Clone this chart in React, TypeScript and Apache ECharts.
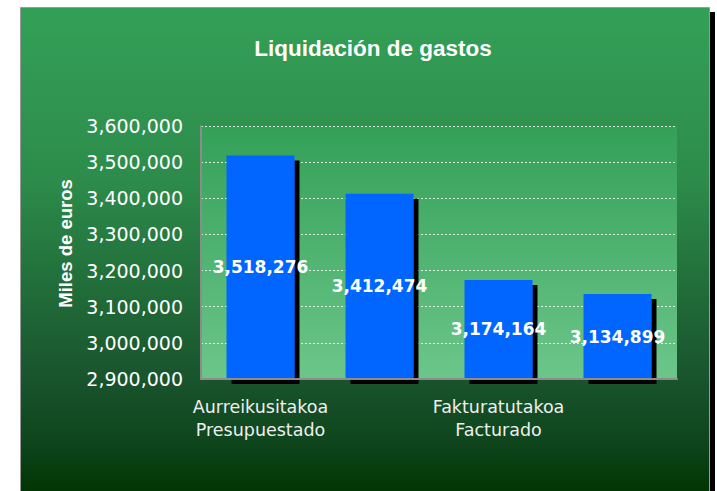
import React, { useEffect, useRef } from "react";
import * as echarts from "echarts";

const titleText = "Liquidación de gastos";
const yAxisName = "Miles de euros";
const categories = [
  "Aurreikusitakoa\nPresupuestado",
  "Konprometitutakoa\nComprometido",
  "Fakturatutakoa\nFacturado",
  "Ordaindutakoa\nPagado",
];
const values = [3518276, 3412474, 3174164, 3134899];
const yMin = 2900000;
const yMax = 3600000;
const yStep = 100000;

const fmt = (v: number) => v.toLocaleString("en-US");

export default function App() {
  const ref = useRef<HTMLDivElement>(null);
  useEffect(() => {
    if (!ref.current) return;
    const chart = echarts.init(ref.current, null, { renderer: "svg" });
    chart.setOption({
      animation: false,
      backgroundColor: "#ffffff",
      graphic: [
        {
          type: "rect",
          z: -20,
          shape: { x: 24, y: 12, width: 691, height: 490 },
          style: { fill: "#000000" },
        },
        {
          type: "rect",
          z: -10,
          shape: { x: 20.5, y: 7.5, width: 689, height: 490 },
          style: {
            stroke: "#9a9a9a",
            lineWidth: 1,
            fill: {
              type: "linear",
              x: 0,
              y: 0,
              x2: 0,
              y2: 1,
              colorStops: [
                { offset: 0, color: "#33a057" },
                { offset: 0.35, color: "#2d8c4b" },
                { offset: 0.55, color: "#22703b" },
                { offset: 0.75, color: "#19552d" },
                { offset: 0.88, color: "#0f461d" },
                { offset: 1, color: "#003300" },
              ],
            },
          },
        },
      ],
      title: {
        text: titleText,
        left: 368,
        top: 32,
        textAlign: "center",
        textStyle: {
          fontFamily: "Liberation Sans",
          fontWeight: "bold",
          fontSize: 22.5,
          color: "#ffffff",
        },
      },
      grid: {
        left: 201,
        top: 126,
        right: 40,
        bottom: 112,
        show: true,
        borderWidth: 0,
        backgroundColor: {
          type: "linear",
          x: 0,
          y: 0,
          x2: 0,
          y2: 1,
          colorStops: [
            { offset: 0, color: "#33a057" },
            { offset: 1, color: "#6cc68a" },
          ],
        },
      },
      xAxis: {
        type: "category",
        data: categories,
        z: 5,
        axisLine: { show: true, lineStyle: { color: "#8c8c8c", width: 2 } },
        axisTick: { show: false },
        axisLabel: {
          interval: 1,
          margin: 16,
          color: "#eeeeee",
          fontFamily: "DejaVu Sans",
          fontSize: 17.5,
          lineHeight: 23,
        },
      },
      yAxis: {
        type: "value",
        min: yMin,
        max: yMax,
        interval: yStep,
        name: yAxisName,
        nameLocation: "middle",
        nameRotate: 90,
        nameGap: 126,
        nameTextStyle: {
          fontFamily: "Liberation Sans",
          fontWeight: "bold",
          fontSize: 18.5,
          color: "#ffffff",
          padding: [0, 0, 0, 18],
        },
        axisLine: { show: true, lineStyle: { color: "#8c8c8c", width: 2 } },
        axisTick: { show: false },
        axisLabel: {
          margin: 18,
          color: "#ffffff",
          fontFamily: "DejaVu Sans",
          fontSize: 19,
          formatter: (v: number) => fmt(v),
        },
        splitLine: {
          show: true,
          lineStyle: { color: "rgba(255,255,255,0.8)", type: [2, 2], width: 1 },
        },
      },
      series: [
        {
          type: "bar",
          data: values,
          barWidth: 68,
          itemStyle: {
            color: "#0066ff",
            shadowColor: "#000000",
            shadowBlur: 0,
            shadowOffsetX: 5,
            shadowOffsetY: 5,
          },
          label: {
            show: true,
            position: "inside",
            color: "#ffffff",
            fontFamily: "DejaVu Sans",
            fontWeight: "bold",
            fontSize: 17,
            formatter: (p: any) => fmt(p.value),
          },
        },
      ],
    });
    return () => chart.dispose();
  }, []);
  return (
    <div
      ref={ref}
      style={{ position: "absolute", left: 0, top: 0, width: 717, height: 491 }}
    />
  );
}
